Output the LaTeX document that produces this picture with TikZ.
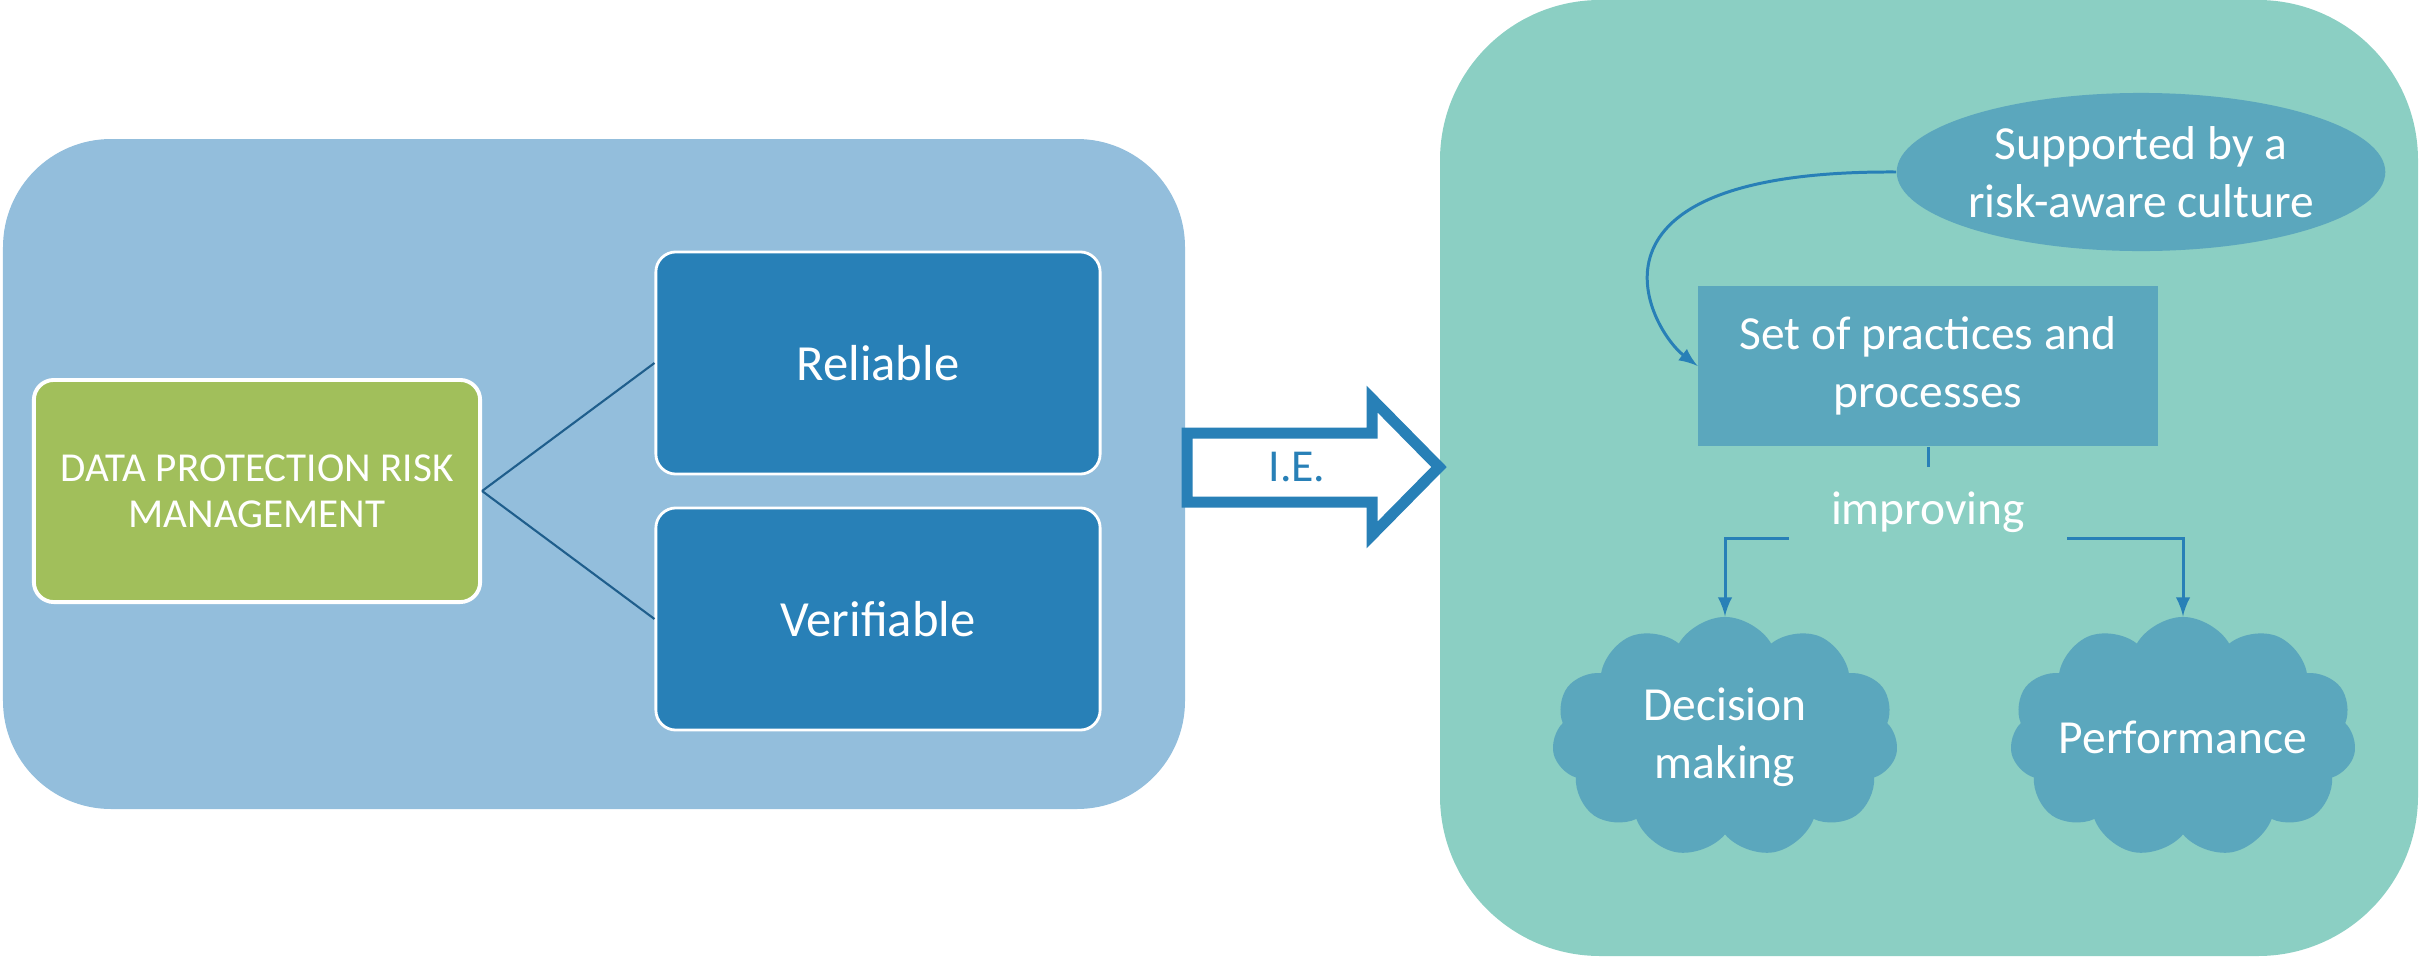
\documentclass[tikz,border=0pt]{standalone}
\usepackage{fontspec}
\setmainfont{Carlito}
\usetikzlibrary{shapes.geometric,shapes.symbols}
\tikzset{>=latex}
\definecolor{myleftbg}{RGB}{147,190,220}
\definecolor{myrightbg}{RGB}{139,207,195}
\definecolor{mygreen}{RGB}{161,191,91}
\definecolor{myblue}{RGB}{40,128,183}
\definecolor{myteal}{RGB}{91,167,189}
\definecolor{mydarkline}{RGB}{31,94,140}

\begin{document}
\begin{tikzpicture}[x=0.01cm,y=-0.01cm,
  greenbox/.style={draw=white,line width=1.1pt,fill=mygreen,rounded corners=0.2cm,
    text=white,align=center,minimum width=4.46cm,minimum height=2.22cm,
    font=\fontsize{11.7}{13.2}\selectfont},
  darkbox/.style={draw=white,line width=0.8pt,fill=myblue,rounded corners=0.2cm,
    text=white,minimum width=4.44cm,minimum height=2.22cm,
    font=\fontsize{14.4}{17}\selectfont},
  tealtext/.style={text=white,align=center,inner sep=0pt,
    font=\fontsize{13.5}{16.5}\selectfont},
  tealbox/.style={tealtext,fill=myteal,minimum width=4.59cm,minimum height=1.6cm},
  tealell/.style={tealtext,ellipse,fill=myteal,minimum width=4.86cm,minimum height=1.58cm},
  tealcloud/.style={tealtext,cloud,cloud puffs=11,cloud puff arc=120,aspect=1.44,
    fill=myteal,minimum width=3.46cm,minimum height=2.4cm},
  thinline/.style={draw=mydarkline,line width=0.6pt},
  blueline/.style={draw=myblue,line width=0.85pt},
  bluearrow/.style={blueline,->}]

  \useasboundingbox (0,0) rectangle (2420,957);

  % panels
  \fill[myleftbg,rounded corners=1.08cm] % left
    (3,139) rectangle (1185,809);
  \fill[myrightbg,rounded corners=1.6cm] % right
    (1440,0) rectangle (2418,956);

  % left boxes
  \node[greenbox] (dprm) at (257,491) {DATA PROTECTION RISK\\MANAGEMENT};
  \node[darkbox] (rel) at (878,363) {Reliable};
  \node[darkbox] (ver) at (878,619) {Verifiable};
  \draw[thinline] (dprm.east) -- (rel.west);
  \draw[thinline] (dprm.east) -- (ver.west);

  % big arrow
  \draw[myblue,line width=0.11cm,fill=white]
    (1187,433) -- (1372,433) -- (1372,399) -- (1439,467)
    -- (1372,535) -- (1372,502) -- (1187,502) -- cycle;
  \node[text=myblue,font=\fontsize{13}{15}\selectfont] (ie) at (1297,467) {I.E.};

  % right nodes
  \node[tealell] (cult) at (2141,172) {Supported by a\\risk-aware culture};
  \node[tealbox] (sop) at (1928,366) {Set of practices and\\processes};
  \node[tealtext,minimum width=2.77cm,minimum height=0.7cm,
    text height=15pt,text depth=3pt] (imp) at (1928,503) {improving};
  \node[tealcloud] (dm) at (1725,737) {Decision\\making};
  \node[tealcloud] (perf) at (2183,737) {\makebox[1.6cm]{Performance}};

  % connectors
  \draw[bluearrow] (cult.west) .. controls (1560,170) and (1650,330) .. (sop.west);
  \draw[blueline] (sop.south) -- (imp.north);
  \draw[bluearrow] (imp.south west) -| (dm.north);
  \draw[bluearrow] (imp.south east) -| (perf.north);

\end{tikzpicture}
\end{document}
